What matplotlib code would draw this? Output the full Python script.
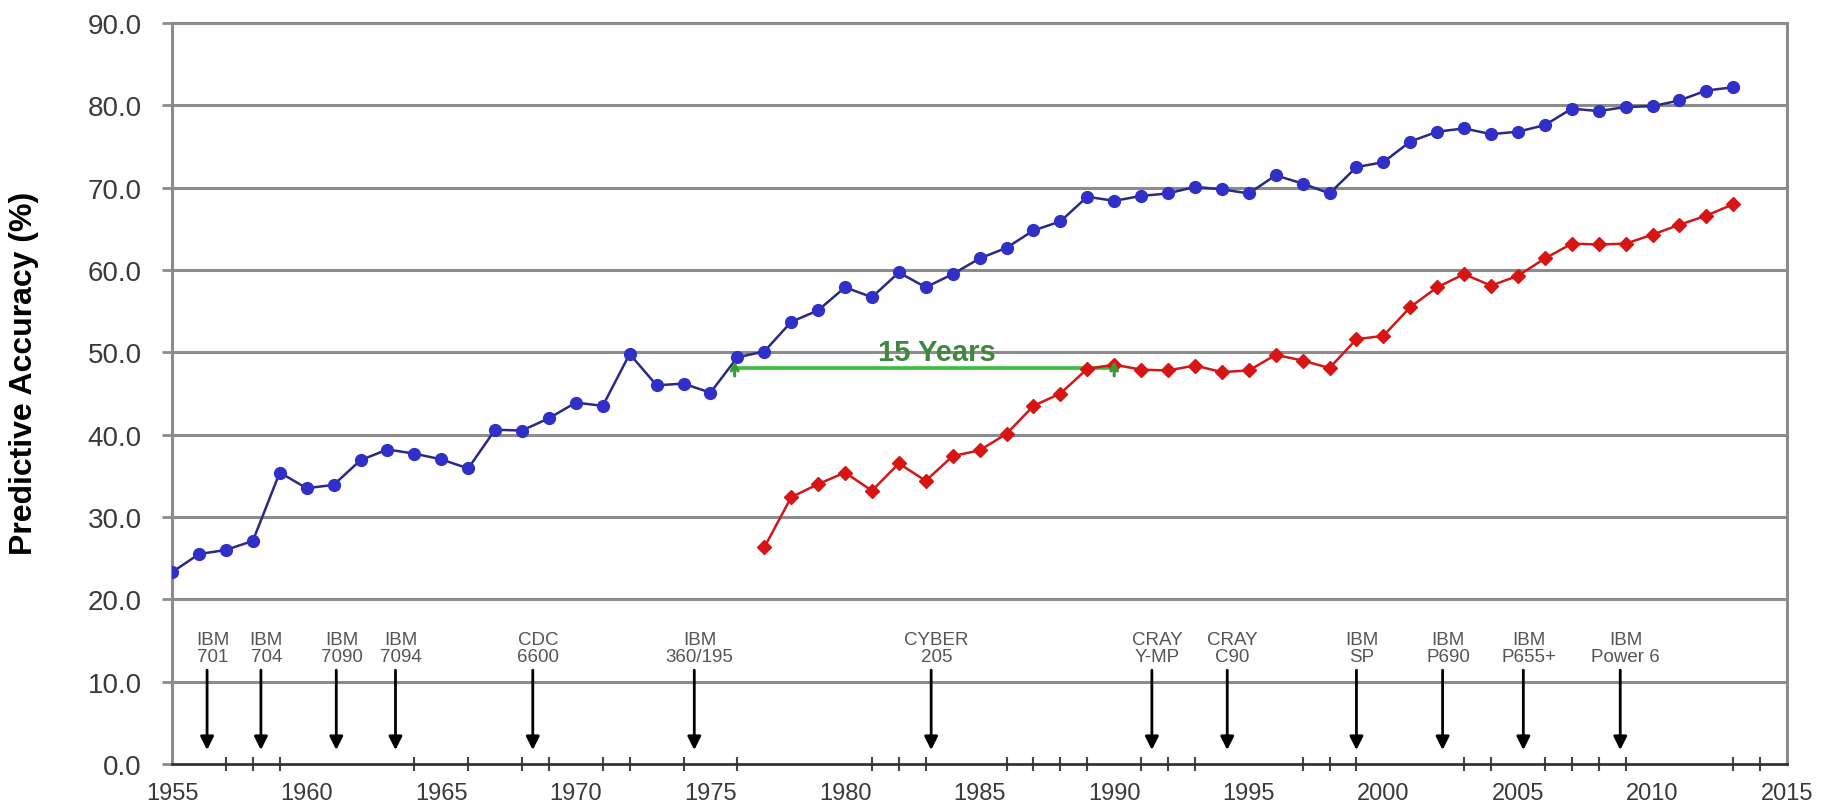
import matplotlib
matplotlib.use("Agg")
from matplotlib import pyplot as plt

plt.rcParams['font.family'] = ['Liberation Sans', 'DejaVu Sans']

# 36 h forecast skill (blue), one value per year
blue_years = list(range(1955, 2014))
blue_vals = [23.3, 25.5, 26.0, 27.1, 35.4, 33.5, 33.9, 36.9, 38.2, 37.7,
             37.0, 35.9, 40.6, 40.5, 42.0, 43.9, 43.5, 49.8, 46.0, 46.2,
             45.1, 49.4, 50.1, 53.7, 55.1, 57.9, 56.7, 59.7, 57.9, 59.5,
             61.4, 62.7, 64.8, 65.9, 68.9, 68.4, 69.0, 69.3, 70.1, 69.8,
             69.3, 71.5, 70.5, 69.3, 72.5, 73.1, 75.6, 76.8, 77.2, 76.5,
             76.8, 77.6, 79.6, 79.3, 79.8, 79.9, 80.6, 81.8, 82.2]

# 72 h forecast skill (red)
red_years = list(range(1977, 2014))
red_vals = [26.3, 32.4, 34.0, 35.4, 33.2, 36.5, 34.4, 37.4, 38.1, 40.1,
            43.5, 45.0, 48.0, 48.5, 47.9, 47.8, 48.4, 47.6, 47.8, 49.7,
            49.0, 48.1, 51.6, 52.0, 55.5, 57.9, 59.5, 58.1, 59.3, 61.4,
            63.2, 63.1, 63.2, 64.3, 65.5, 66.6, 68.0]

# computers
machines = ['IBM\n701', 'IBM\n704', 'IBM\n7090', 'IBM\n7094', 'CDC\n6600',
            'IBM\n360/195', 'CYBER\n205', 'CRAY\nY-MP', 'CRAY\nC90',
            'IBM\nSP', 'IBM\nP690', 'IBM\nP655+', 'IBM\nPower 6']
machine_years = [1956.3, 1958.3, 1961.1, 1963.3, 1968.4, 1974.4, 1983.2,
                 1991.4, 1994.2, 1999.0, 2002.2, 2005.2, 2008.8]

# the "15 years" gap
gap_start = 1975.9
gap_end = 1990.0
gap_level = 48.1
gap_text = '15 Years'

x_labels = ['1955', '1960', '1965', '1970', '1975', '1980', '1985',
            '1990', '1995', '2000', '2005', '2010', '2015']
minor_years = [1957, 1958, 1959, 1960, 1964, 1965, 1966, 1968, 1969, 1970,
               1971, 1972, 1974, 1975, 1976, 1980, 1981, 1982, 1983, 1986,
               1987, 1988, 1989, 1990, 1991, 1992, 1993, 1997, 1998, 1999,
               2003, 2004, 2005, 2006, 2007, 2008, 2009, 2010, 2013, 2014,
               2015]
y_ticks = [0, 10, 20, 30, 40, 50, 60, 70, 80, 90]

fig = plt.figure(figsize=(18.21, 8.03), dpi=100)
ax = fig.add_axes([0.0945, 0.0473, 0.8869, 0.9228])

grid_col = '#8c8c8c'
for v in y_ticks[1:-1]:
    ax.axhline(v, color=grid_col, lw=2.2, zorder=1)

ax.plot(blue_years, blue_vals, color='#2a2a80', lw=1.8, marker='o',
        markersize=8.5, markerfacecolor='#3030c8', markeredgecolor='#3030c8',
        zorder=4)
ax.plot(red_years, red_vals, color='#d01818', lw=1.8, marker='D',
        markersize=7.2, markerfacecolor='#d81515', markeredgecolor='#d81515',
        zorder=4)

# gap annotation
ax.plot([gap_start, gap_end], [gap_level, gap_level], color='#3cbc3c',
        lw=2.6, zorder=3)
for gx in [gap_start, gap_end]:
    ax.annotate('', xy=(gx, gap_level + 1.2), xytext=(gx, gap_level - 1.3),
                arrowprops=dict(arrowstyle='->', color='#3a9a3a', lw=2.2,
                                mutation_scale=12), zorder=5)
ax.text((gap_start + gap_end) / 2 + 0.45, gap_level + 2.0, gap_text,
        color='#3f873f', fontsize=21, fontweight='bold', ha='center',
        va='center', zorder=5)

# machine arrows
for name, yr in zip(machines, machine_years):
    ax.annotate('', xy=(yr, 1.7), xytext=(yr, 11.4),
                arrowprops=dict(arrowstyle='-|>', color='black', lw=2,
                                mutation_scale=20, shrinkA=0, shrinkB=0),
                zorder=5)
    ax.text(yr + 0.2, 12.0, name, fontsize=13.5, color='#555555',
            ha='center', va='bottom', linespacing=1.05, zorder=5)

ax.set_xlim(1955, 2015)
ax.set_ylim(0, 90)
ax.set_xticks(range(1955, 2016, 5))
ax.set_xticklabels(x_labels)
ax.set_xticks(minor_years, minor=True)
ax.set_yticks(y_ticks)
ax.set_yticklabels([f'{v:.1f}' for v in y_ticks])

ax.tick_params(axis='x', which='major', length=0, pad=13, labelsize=17,
               labelcolor='#3a3a3a')
ax.tick_params(axis='x', which='minor', direction='inout', length=10,
               width=1.5, color='#444444')
ax.tick_params(axis='y', which='major', direction='out', length=7,
               width=2, color=grid_col, pad=15, labelsize=20,
               labelcolor='#3a3a3a')

for side in ['top', 'right', 'left']:
    ax.spines[side].set_color(grid_col)
    ax.spines[side].set_linewidth(2.2)
ax.spines['bottom'].set_color('#333333')
ax.spines['bottom'].set_linewidth(2)

ax.set_ylabel('Predictive Accuracy (%)', fontsize=23, fontweight='bold',
              color='black')
ax.yaxis.set_label_coords(-0.092, 0.528)
ax.yaxis.label.set_va('center')

fig.savefig('out.png', dpi=100)
